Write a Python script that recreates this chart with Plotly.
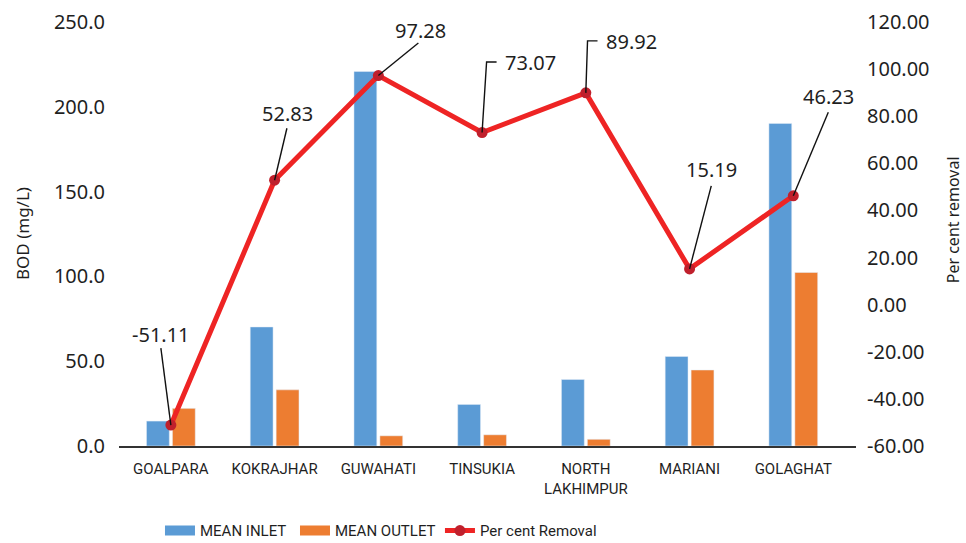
import plotly.graph_objects as go

# Sewage treatment plants (Assam) – BOD at inlet/outlet and per cent removal
sites = ["GOALPARA", "KOKRAJHAR", "GUWAHATI", "TINSUKIA",
         "NORTH<br>LAKHIMPUR", "MARIANI", "GOLAGHAT"]
mean_inlet = [14.7, 70.2, 220.8, 24.5, 39.2, 52.8, 190.2]
mean_outlet = [22.2, 33.1, 6.0, 6.6, 3.95, 44.8, 102.3]
per_cent_removal = [-51.11, 52.83, 97.28, 73.07, 89.92, 15.19, 46.23]

bod_ticks = [0, 50, 100, 150, 200, 250]
removal_ticks = [-60, -40, -20, 0, 20, 40, 60, 80, 100, 120]

BLUE = "#5B9BD5"
ORANGE = "#ED7D31"
RED = "#EE2424"
DARK_RED = "#C0202C"
TEXT = "#1f1f1f"
NUM_FONT = "Noto Sans"
NARROW_FONT = "Roboto, sans-serif"

fig = go.Figure()

fig.add_trace(go.Bar(x=sites, y=mean_inlet, name="MEAN INLET",
                     marker_color=BLUE, showlegend=False, legendgroup="inlet"))
fig.add_trace(go.Bar(x=sites, y=mean_outlet, name="MEAN OUTLET",
                     marker_color=ORANGE, showlegend=False, legendgroup="outlet"))

# wide band legend keys for the two bar series
fig.add_trace(go.Scatter(x=[None], y=[None], mode="lines", name="MEAN INLET",
                         line=dict(color=BLUE, width=12), legendgroup="inlet",
                         legend="legend"))
fig.add_trace(go.Scatter(x=[None], y=[None], mode="lines", name="MEAN OUTLET",
                         line=dict(color=ORANGE, width=12), legendgroup="outlet",
                         legend="legend2"))

fig.add_trace(go.Scatter(x=sites, y=per_cent_removal, yaxis="y2",
                         name="Per cent Removal", mode="lines+markers",
                         line=dict(color=RED, width=5),
                         marker=dict(color=DARK_RED, size=11),
                         legend="legend3"))

# label placement around each removal point: (text anchor, text dx, text dy, leader path)
label_style = [
    ("center", -9.5, 91, "M0,0 L-10,77"),
    ("center", 13.3, 67, "M0,0 L12.3,52"),
    ("center", 42, 45.5, "M0,0 L40,32.5"),
    ("left", 20.5, 70.5, "M0,0 L4.5,70.5 L14.5,70.5"),
    ("left", 18.4, 51, "M0,0 L1.7,52 L11.7,52"),
    ("center", 21.7, 99, "M0,0 L21.7,83"),
    ("center", 35.2, 99, "M0,0 L35,83.5"),
]

annotations = []
shapes = []
for i, (val, (anchor, dx, dy, path)) in enumerate(zip(per_cent_removal, label_style)):
    annotations.append(dict(x=i, y=val, xref="x", yref="y2", text=f"{val:.2f}",
                            showarrow=False, xanchor=anchor, yanchor="middle",
                            xshift=dx, yshift=dy,
                            font=dict(family=NUM_FONT, size=20, color=TEXT)))
    shapes.append(dict(type="path", xref="x", yref="y2",
                       xsizemode="pixel", ysizemode="pixel",
                       xanchor=i, yanchor=val, path=path,
                       line=dict(color="#111111", width=1.4)))

# axis titles
annotations.append(dict(x=-0.1316, y=0.5, xref="paper", yref="paper",
                        text="BOD (mg/L)", textangle=-90, showarrow=False,
                        xanchor="center", yanchor="middle",
                        font=dict(family=NUM_FONT, size=17, color=TEXT)))
annotations.append(dict(x=1.132, y=0.533, xref="paper", yref="paper",
                        text="Per cent removal", textangle=-90, showarrow=False,
                        xanchor="center", yanchor="middle",
                        font=dict(family=NUM_FONT, size=16, color=TEXT)))

legend_common = dict(orientation="h", y=-0.2, xanchor="left", yanchor="middle",
                     font=dict(family=NARROW_FONT, size=15, color=TEXT),
                     bgcolor="rgba(0,0,0,0)")

fig.update_layout(
    width=966, height=543,
    margin=dict(l=119, r=110, t=22, b=97, autoexpand=False),
    paper_bgcolor="white", plot_bgcolor="white",
    barmode="group", bargap=0.5, bargroupgap=0.12,
    showlegend=True,
    legend=dict(x=0.0556, **legend_common),
    legend2=dict(x=0.2388, **legend_common),
    legend3=dict(x=0.4355, **legend_common),
    xaxis=dict(showline=True, linecolor="#333333", linewidth=2,
               showgrid=False, zeroline=False, ticks="",
               tickfont=dict(family=NARROW_FONT, size=15, color=TEXT),
               ticklabelstandoff=8),
    yaxis=dict(range=[0, 250], tickvals=bod_ticks,
               ticktext=[f"{v:.1f}" for v in bod_ticks],
               showgrid=False, zeroline=False, showline=False, ticks="",
               tickfont=dict(family=NUM_FONT, size=20, color=TEXT),
               ticklabelstandoff=13),
    yaxis2=dict(range=[-60, 120], tickvals=removal_ticks,
                ticktext=[f"{v:.2f}" for v in removal_ticks],
                overlaying="y", side="right",
                showgrid=False, zeroline=False, showline=False, ticks="",
                tickfont=dict(family=NUM_FONT, size=20, color=TEXT),
                ticklabelstandoff=10),
    annotations=annotations,
    shapes=shapes,
)

fig.write_html("out.html")
